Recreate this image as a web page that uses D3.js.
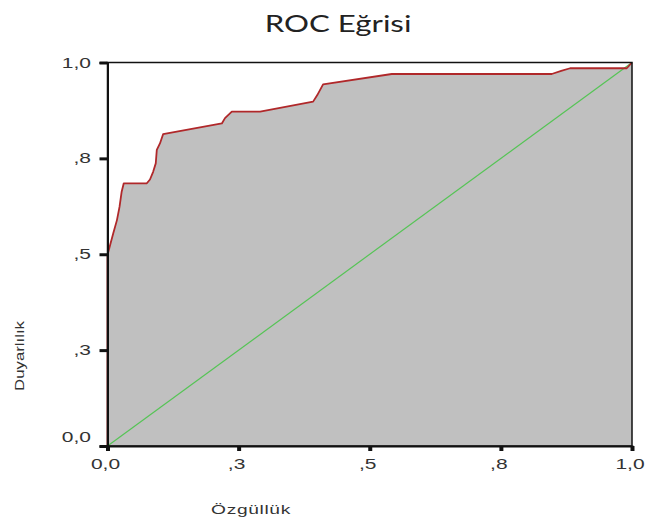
<!DOCTYPE html>
<html>
<head>
<meta charset="utf-8">
<script src="https://cdn.jsdelivr.net/npm/d3@7"></script>
<style>
  html, body { margin: 0; padding: 0; background: #fff; }
  svg { display: block; }
</style>
</head>
<body>
<svg id="chart" width="648" height="521"></svg>
<script>
// ROC curve: 1 - specificity on x, sensitivity on y
const fpr = [0, 0, 0.005, 0.011, 0.018, 0.023, 0.027, 0.031, 0.075, 0.081, 0.087, 0.092, 0.094, 0.100, 0.106, 0.218, 0.224, 0.237, 0.291, 0.392, 0.400, 0.411, 0.542, 0.847, 0.865, 0.882, 0.990, 1];
const tpr = [0, 0.498, 0.524, 0.555, 0.589, 0.624, 0.663, 0.685, 0.685, 0.695, 0.715, 0.737, 0.772, 0.789, 0.813, 0.841, 0.855, 0.872, 0.872, 0.898, 0.915, 0.943, 0.970, 0.970, 0.978, 0.985, 0.985, 1];
// Reference (chance) line
const refLine = [0, 1];

const tickValues = [0, 0.25, 0.5, 0.75, 1];
const tickLabels = ["0,0", ",3", ",5", ",8", "1,0"];

const titleText = "ROC Eğrisi";
const xTitle = "Özgüllük";
const yTitle = "Duyarlılık";

const svg = d3.select("#chart");
const x = d3.scaleLinear().domain([0, 1]).range([107.5, 632]);
const y = d3.scaleLinear().domain([0, 1]).range([446, 62.5]);

const pts = fpr.map((f, i) => [f, tpr[i]]);

// shaded area under the curve
svg.append("path")
  .datum(pts)
  .attr("fill", "#c0c0c0")
  .attr("d", d3.area().x(d => x(d[0])).y0(y(0)).y1(d => y(d[1])));

// chance diagonal
svg.append("line")
  .attr("x1", x(refLine[0])).attr("y1", y(refLine[0]))
  .attr("x2", x(refLine[1])).attr("y2", y(refLine[1]))
  .attr("stroke", "#55c455").attr("stroke-width", 1.2);

// ROC curve
svg.append("path")
  .datum(pts)
  .attr("fill", "none")
  .attr("stroke", "#b0282a")
  .attr("stroke-width", 1.8)
  .attr("stroke-linejoin", "round")
  .attr("d", d3.line().x(d => x(d[0])).y(d => y(d[1])));

// frame
svg.append("rect")
  .attr("x", x(0)).attr("y", y(1))
  .attr("width", x(1) - x(0)).attr("height", y(0) - y(1))
  .attr("fill", "none").attr("stroke", "#111").attr("stroke-width", 1.5);

// axes (ticks only; labels drawn below)
const gy = svg.append("g")
  .attr("transform", `translate(${x(0)},0)`)
  .call(d3.axisLeft(y).tickValues(tickValues).tickSize(8).tickFormat(""));
gy.select(".domain").attr("stroke", "#111").attr("stroke-width", 2);
gy.selectAll(".tick line").attr("stroke", "#111").attr("stroke-width", 3);

const gx = svg.append("g")
  .attr("transform", `translate(0,${y(0)})`)
  .call(d3.axisBottom(x).tickValues(tickValues).tickSize(5).tickFormat(""));
gx.select(".domain").attr("stroke", "#111").attr("stroke-width", 2);
gx.selectAll(".tick line").attr("stroke", "#111").attr("stroke-width", 4);

const labelFont = "'Liberation Sans', Arial, sans-serif";

// y tick labels
svg.selectAll(".ylab").data(tickValues).join("text")
  .attr("class", "ylab")
  .attr("transform", d => `translate(91,${y(d) + 5 - (d === 0 ? 9 : 0)}) scale(1.5,1)`)
  .attr("text-anchor", "end")
  .attr("font-family", labelFont).attr("font-size", 14).attr("fill", "#333")
  .text((d, i) => tickLabels[i]);

// x tick labels
svg.selectAll(".xlab").data(tickValues).join("text")
  .attr("class", "xlab")
  .attr("transform", d => `translate(${x(d) - 2},469) scale(1.5,1)`)
  .attr("text-anchor", "middle")
  .attr("font-family", labelFont).attr("font-size", 14).attr("fill", "#333")
  .text((d, i) => tickLabels[i]);

// axis titles
svg.append("text")
  .attr("transform", "translate(251,514) scale(1.6,1)")
  .attr("text-anchor", "middle")
  .attr("font-family", labelFont).attr("font-size", 12).attr("fill", "#333")
  .attr("letter-spacing", 0.4)
  .text(xTitle);

svg.append("text")
  .attr("transform", "translate(24,356) rotate(-90) scale(1.4,1)")
  .attr("text-anchor", "middle")
  .attr("font-family", labelFont).attr("font-size", 12).attr("fill", "#333")
  .text(yTitle);

// chart title
svg.append("text")
  .attr("transform", "translate(338,32) scale(1.3,1)")
  .attr("text-anchor", "middle")
  .attr("font-family", "Lato, 'Open Sans', sans-serif").attr("font-size", 24).attr("fill", "#222")
  .text(titleText);
</script>
</body>
</html>
